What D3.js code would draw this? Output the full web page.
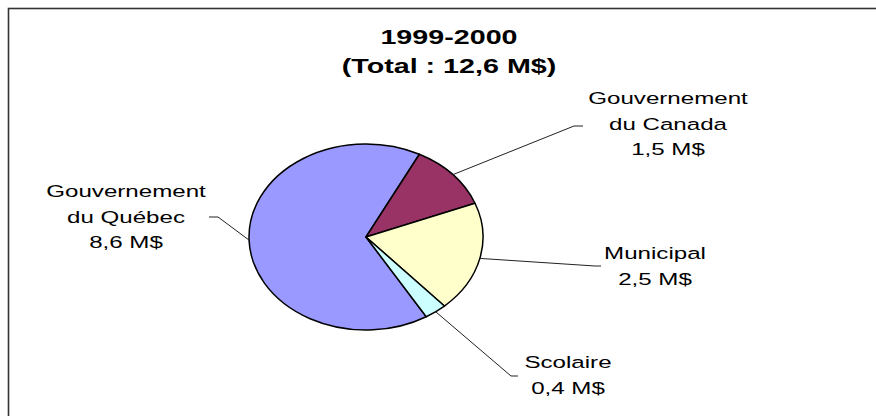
<!DOCTYPE html>
<html>
<head>
<meta charset="utf-8">
<script src="https://cdn.jsdelivr.net/npm/d3@7"></script>
<style>
  html, body { margin: 0; padding: 0; background: #fff; }
  svg { display: block; }
  text { font-family: "Liberation Sans", Arial, sans-serif; fill: #000; }
</style>
</head>
<body>
<div id="chart"></div>
<script>
// ---- Data ----
const titleLines = ["1999-2000", "(Total : 12,6 M$)"];
const categories = ["Gouvernement du Québec", "Gouvernement du Canada", "Municipal", "Scolaire"];
const labelLines = [
  ["Gouvernement", "du Québec", "8,6 M$"],
  ["Gouvernement", "du Canada", "1,5 M$"],
  ["Municipal", "2,5 M$"],
  ["Scolaire", "0,4 M$"]
];
const values = [8.6, 1.5, 2.5, 0.4];
const colors = ["#9999FF", "#993366", "#FFFFCC", "#CCFFFF"];

// ---- Layout ----
const W = 876, H = 416;
const cx = 366, cy = 237, rx = 117, ry = 93;
const sxText = 1.42;

const svg = d3.select("#chart").append("svg")
  .attr("width", W).attr("height", H);

// border (only left/top visible in the crop)
svg.append("rect")
  .attr("x", 8.5).attr("y", 8.5).attr("width", 1000).attr("height", 1000)
  .attr("fill", "none").attr("stroke", "#333").attr("stroke-width", 1.6);

// title
const title = svg.append("g");
titleLines.forEach((t, i) => {
  title.append("text")
    .attr("transform", `translate(449,${44 + i * 29}) scale(1.4,1)`)
    .attr("text-anchor", "middle")
    .attr("font-weight", "bold")
    .attr("font-size", "20.5px")
    .text(t);
});

// pie
const startDeg = 149;
const pie = d3.pie().sort(null).value(d => d)
  .startAngle(startDeg * Math.PI / 180)
  .endAngle(startDeg * Math.PI / 180 + 2 * Math.PI);
const arcs = pie(values);
const arc = d3.arc().innerRadius(0).outerRadius(rx);

const pg = svg.append("g")
  .attr("transform", `translate(${cx},${cy}) scale(1,${ry / rx})`);
pg.selectAll("path").data(arcs).enter().append("path")
  .attr("d", arc)
  .attr("fill", (d, i) => colors[i])
  .attr("stroke", "#000")
  .attr("stroke-width", 1.5)
  .attr("stroke-linejoin", "round")
  .attr("vector-effect", "non-scaling-stroke");

// labels: anchor (center x, first baseline) and leader elbow/end points
const labelLayout = [
  { x: 126, y: 197, elbow: [218, 217], end: [209, 217] },
  { x: 668, y: 104, elbow: [574, 126], end: [583, 126] },
  { x: 655, y: 259, elbow: [595, 266], end: [601, 266] },
  { x: 568, y: 368, elbow: [511, 376], end: [518, 376] }
];

arcs.forEach((a, i) => {
  const mid = (a.startAngle + a.endAngle) / 2;
  const px = cx + rx * Math.sin(mid);
  const py = cy - ry * Math.cos(mid);
  const L = labelLayout[i];
  svg.append("polyline")
    .attr("points", [[px, py], L.elbow, L.end].map(p => p.join(",")).join(" "))
    .attr("fill", "none")
    .attr("stroke", "#222")
    .attr("stroke-width", 1);
  labelLines[i].forEach((t, j) => {
    svg.append("text")
      .attr("transform", `translate(${L.x},${L.y + j * 25.5}) scale(${sxText},1)`)
      .attr("text-anchor", "middle")
      .attr("font-size", "17px")
      .text(t);
  });
});
</script>
</body>
</html>
